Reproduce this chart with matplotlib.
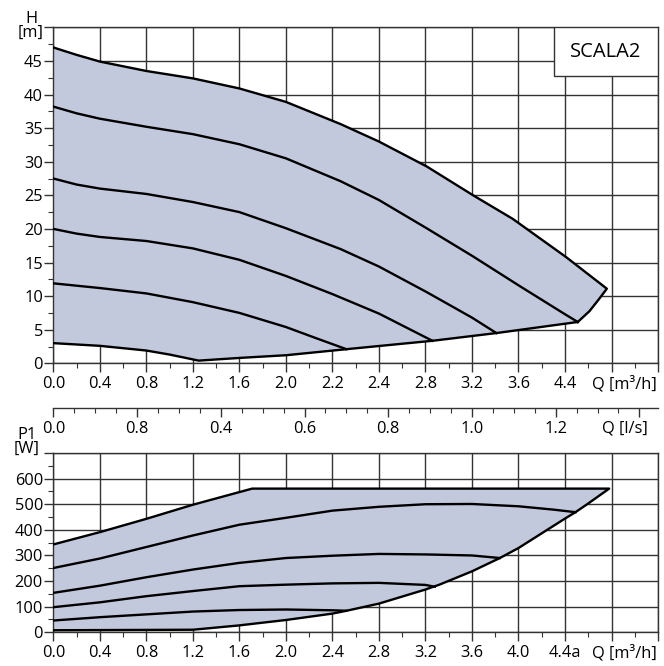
import matplotlib
matplotlib.use("Agg")
import matplotlib.pyplot as plt
import numpy as np
from matplotlib.patches import Rectangle
from matplotlib.ticker import MultipleLocator

plt.rcParams['font.family'] = ['Open Sans', 'DejaVu Sans']

# ---- H(Q) chart, Q in m3/h, H in m
q_hmax = [0, 0.2, 0.4, 0.8, 1.2, 1.6, 2.0, 2.47, 2.8, 3.21, 3.61, 3.95, 4.41, 4.76]
h_hmax = [47.0, 45.9, 44.9, 43.5, 42.4, 40.9, 38.9, 35.6, 33.0, 29.3, 25.0, 21.5, 15.8, 11.1]
q_hright = [4.76, 4.69, 4.61, 4.51]
h_hright = [11.1, 9.5, 7.75, 6.15]
q_hmin = [0, 0.4, 0.8, 1.0, 1.25, 1.6, 2.0, 2.52, 3.26, 3.81, 4.51]
h_hmin = [3.0, 2.6, 1.9, 1.3, 0.4, 0.8, 1.2, 2.1, 3.35, 4.5, 6.15]

q_h38 = [0, 0.2, 0.4, 0.8, 1.2, 1.6, 2.0, 2.47, 2.8, 3.21, 3.61, 4.01, 4.4, 4.51]
h_h38 = [38.2, 37.2, 36.4, 35.2, 34.1, 32.6, 30.5, 27.1, 24.3, 20.1, 15.9, 11.5, 7.3, 6.15]
q_h27 = [0, 0.2, 0.4, 0.8, 1.2, 1.6, 2.0, 2.47, 2.8, 3.21, 3.6, 3.81]
h_h27 = [27.5, 26.6, 26.0, 25.2, 24.0, 22.5, 20.1, 17.0, 14.4, 10.6, 6.8, 4.5]
q_h20 = [0, 0.2, 0.4, 0.8, 1.2, 1.6, 2.0, 2.4, 2.8, 3.26]
h_h20 = [20.0, 19.3, 18.8, 18.2, 17.1, 15.4, 13.0, 10.3, 7.4, 3.35]
q_h12 = [0, 0.4, 0.8, 1.2, 1.6, 2.0, 2.25, 2.52]
h_h12 = [11.9, 11.2, 10.4, 9.1, 7.5, 5.4, 3.8, 2.1]

# ---- P1(Q) chart, P1 in W
q_ptop = [0, 0.4, 0.8, 1.2, 1.71, 4.78]
p_ptop = [343, 391, 443, 498, 561, 561]
q_pedge = [4.78, 4.6, 4.49, 4.4, 4.0, 3.84, 3.6, 3.32, 3.2, 2.8, 2.52, 2.4, 2.0, 1.77, 1.6, 1.2, 0]
p_pedge = [561, 503, 469, 444, 329, 290, 238, 186, 167, 112, 84, 73, 48, 36, 27, 10, 8]

q_pa = [0, 0.4, 0.8, 1.2, 1.6, 2.0, 2.4, 2.8, 3.2, 3.6, 4.0, 4.3, 4.49]
p_pa = [251, 288, 333, 378, 420, 447, 475, 490, 500, 501, 492, 479, 469]
q_pb = [0, 0.4, 0.8, 1.2, 1.6, 2.0, 2.4, 2.8, 3.2, 3.6, 3.84]
p_pb = [154, 182, 215, 245, 271, 290, 299, 306, 304, 300, 290]
q_pc = [0, 0.4, 0.8, 1.2, 1.6, 2.0, 2.4, 2.8, 3.2, 3.28]
p_pc = [98, 117, 141, 161, 180, 186, 191, 193, 185, 178]
q_pd = [0, 0.4, 0.8, 1.2, 1.6, 2.0, 2.4, 2.52]
p_pd = [46, 59, 70, 81, 87, 89, 86, 84]

# tick labels as printed on the sheet
top_xlabels = ['0.0', '0.4', '0.8', '1.2', '1.6', '2.0', '2.2', '2.4', '2.8', '3.2', '3.6', '4.4', '', '']
bot_xlabels = ['0.0', '0.4', '0.8', '1.2', '1.6', '2.0', '2.4', '2.8', '3.2', '3.6', '4.0', '4.4a', '', '']
ls_labels = ['0.0', '0.8', '0.4', '0.6', '0.8', '1.0', '1.2', '']

fill_c = '#c3c9dc'
grid_c = '#333333'
fs = 11.8

fig = plt.figure(figsize=(6.64, 6.66), dpi=100)
ax1 = fig.add_axes([0.0803, 0.4545, 0.9107, 0.5045])
ax2 = fig.add_axes([0.0803, 0.0506, 0.9107, 0.2692])
axm = fig.add_axes([0.0803, 0.3869, 0.9107, 0.0005])


def style(ax, ymax, ystep, yminor):
    ax.set_xlim(0, 5.2)
    ax.set_ylim(0, ymax)
    ax.set_xticks(np.arange(0, 5.21, 0.4))
    ax.xaxis.set_minor_locator(MultipleLocator(0.2))
    ax.set_yticks(np.arange(0, ymax + 0.1, ystep))
    ax.yaxis.set_minor_locator(MultipleLocator(yminor))
    ax.grid(True, which='major', color=grid_c, lw=1.0)
    ax.set_axisbelow(True)
    for s in ax.spines.values():
        s.set_color(grid_c)
        s.set_linewidth(1.0)
    ax.tick_params(which='major', direction='out', length=6.5, width=1.0,
                   color=grid_c, labelsize=fs, pad=2.5)
    ax.tick_params(which='minor', direction='out', length=3.5, width=0.8, color=grid_c)
    ax.tick_params(axis='y', pad=1)


# H chart
style(ax1, 50, 5, 2.5)
ax1.set_xticklabels(top_xlabels)
ax1.set_yticklabels([str(v) for v in range(0, 50, 5)] + [''])
poly_q = q_hmax + q_hright + q_hmin[::-1]
poly_h = h_hmax + h_hright + h_hmin[::-1]
ax1.fill(poly_q, poly_h, color=fill_c, lw=0, zorder=2)
lw = 1.7
ax1.plot(q_hmax + q_hright, h_hmax + h_hright, color='black', lw=lw, zorder=3)
ax1.plot(q_hmin, h_hmin, color='black', lw=lw, zorder=3)
for q, h in [(q_h38, h_h38), (q_h27, h_h27), (q_h20, h_h20), (q_h12, h_h12)]:
    ax1.plot(q, h, color='black', lw=lw, zorder=3)
ax1.annotate('Q [m³/h]', xy=(4.91, 0), xycoords=('data', 'axes fraction'),
             xytext=(0, -9), textcoords='offset points', ha='center', va='top', fontsize=fs)
ax1.add_patch(Rectangle((0.8285, 0.854), 0.1715, 0.146, transform=ax1.transAxes,
                        fc='white', ec=grid_c, lw=1.0, zorder=5))
ax1.text(0.914, 0.927, 'SCALA2', transform=ax1.transAxes, ha='center', va='center',
         fontsize=14.5, zorder=6)

# P1 chart
style(ax2, 700, 100, 50)
ax2.set_xticklabels(bot_xlabels)
ax2.set_yticklabels([str(v) for v in range(0, 700, 100)] + [''])
ax2.fill(q_ptop + q_pedge, p_ptop + p_pedge, color=fill_c, lw=0, zorder=2)
ax2.plot(q_ptop + q_pedge, p_ptop + p_pedge, color='black', lw=lw, zorder=3)
for q, p in [(q_pa, p_pa), (q_pb, p_pb), (q_pc, p_pc), (q_pd, p_pd)]:
    ax2.plot(q, p, color='black', lw=lw, zorder=3)
ax2.annotate('Q [m³/h]', xy=(4.91, 0), xycoords=('data', 'axes fraction'),
             xytext=(0, -9), textcoords='offset points', ha='center', va='top', fontsize=fs)

# l/s axis between the charts
axm.set_xlim(0, 5.2 / 3.6)
axm.set_yticks([])
for k in ['top', 'left', 'right']:
    axm.spines[k].set_visible(False)
axm.spines['bottom'].set_color(grid_c)
axm.spines['bottom'].set_linewidth(1.0)
axm.set_xticks(np.arange(0, 1.41, 0.2))
axm.set_xticklabels(ls_labels)
axm.xaxis.set_minor_locator(MultipleLocator(0.05))
axm.tick_params(which='major', direction='out', length=6.5, width=1.0, color=grid_c,
                labelsize=fs, pad=2.5)
axm.tick_params(which='minor', direction='out', length=3.5, width=0.8, color=grid_c)
axm.annotate('Q [l/s]', xy=(1.366, 0), xycoords=('data', 'axes fraction'),
             xytext=(0, -9), textcoords='offset points', ha='center', va='top', fontsize=fs)

fig.text(31 / 664, 1 - 11 / 666, 'H\n[m]', ha='center', va='top', fontsize=fs, linespacing=0.85)
fig.text(27 / 664, 1 - 427 / 666, 'P1\n[W]', ha='center', va='top', fontsize=fs, linespacing=0.85)

fig.savefig('out.png', dpi=100)
